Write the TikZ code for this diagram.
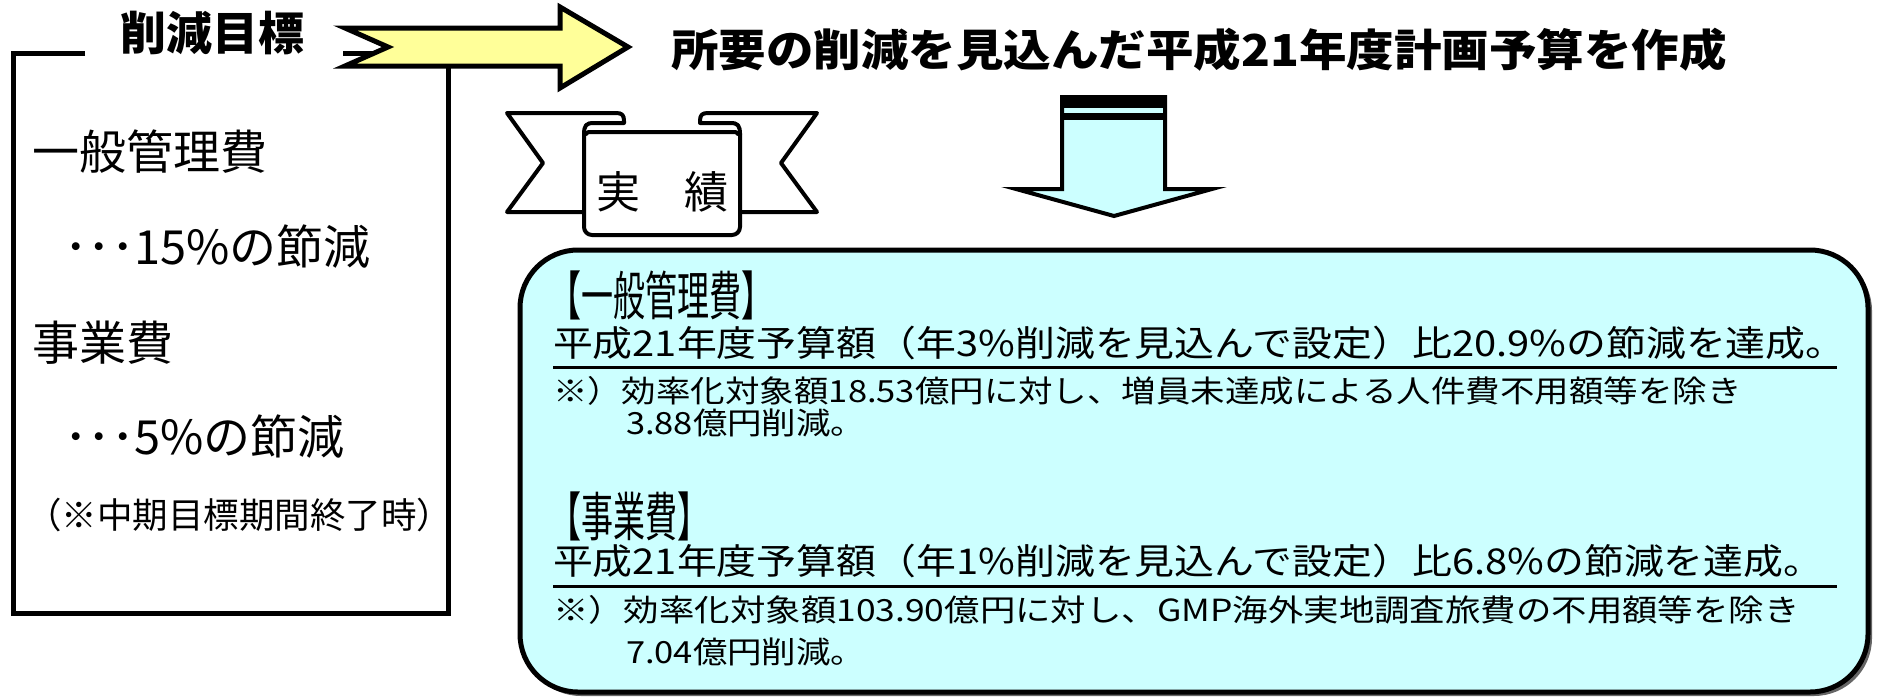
\documentclass[tikz,border=0pt]{standalone}
\usepackage{fontspec}
\usepackage{graphicx}
\setmainfont{Noto Sans CJK JP}
\definecolor{yel}{HTML}{FFFF99}
\definecolor{cyb}{HTML}{CCFFFF}
\newcommand{\fsz}[1]{\fontsize{#1}{#1}\selectfont}
\tikzset{
  frameline/.style={line width=5pt},
  yarrow/.style={line width=5pt, fill=yel, line join=miter},
  darrow/.style={line width=4pt, fill=cyb, line join=miter},
  rib/.style={line width=4pt, line join=round, line cap=round},
  txt/.style={inner sep=0pt, outer sep=0pt},
  ubar/.style={line width=3pt},
}
\begin{document}
\begin{tikzpicture}[x=1pt,y=-1pt]
\useasboundingbox (0,0) rectangle (1879,699);
% frame
\draw[frameline] (85,53) -- (13,53) -- (13,613) -- (448,613) -- (448,60);
\draw[frameline] (343,53) -- (420,53);
\node[txt] (goal) at (212,33) {\bfseries\fsz{46}削減目標};
% yellow arrow
\draw[yarrow] (345,28) -- (560,28) -- (560,7) -- (628,47) -- (560,88) -- (560,66) -- (345,66) -- (388,47) -- cycle;
\node[txt,anchor=west] (plan) at (671,50) {\scalebox{1.08}[1]{\bfseries\fsz{44}所要の削減を見込んだ平成21年度計画予算を作成}};
% frame texts
\node[txt,anchor=west] (a1) at (32,152) {\fsz{47}一般管理費};
\node[txt,anchor=west] (a2) at (64,247) {\fsz{47}･･･15\%の節減};
\node[txt,anchor=west] (a3) at (32,343) {\fsz{47}事業費};
\node[txt,anchor=west] (a4) at (64,437) {\fsz{47}･･･5\%の節減};
\node[txt,anchor=west] (a5) at (26,515) {\fsz{35.5}（※中期目標期間終了時）};
% ribbon
\path[fill=white] (584,212) -- (507,212) -- (543,163) -- (507,113) -- (616,113) .. controls (622,113) and (624,115) .. (624,121) -- (624,212) -- cycle;
\draw[rib] (584,212) -- (507,212) -- (543,163) -- (507,113) -- (616,113) .. controls (622,113) and (624,115) .. (624,121) -- (624,133);
\path[fill=white] (740,212) -- (817,212) -- (781,163) -- (817,113) -- (708,113) .. controls (702,113) and (700,115) .. (700,121) -- (700,212) -- cycle;
\draw[rib] (740,212) -- (817,212) -- (781,163) -- (817,113) -- (708,113) .. controls (702,113) and (700,115) .. (700,121) -- (700,133);
\path[fill=white] (584,135) .. controls (584,125) and (586,123) .. (594,123) -- (730,123) .. controls (738,123) and (740,125) .. (740,135) -- (740,227) -- (584,227) -- cycle;
\draw[rib,fill=white,rounded corners=8] (584,133) -- (584,235) -- (740,235) -- (740,133);
\draw[rib] (584,135) .. controls (584,125) and (586,123) .. (594,123) -- (624,123);
\draw[rib] (740,135) .. controls (740,125) and (738,123) .. (730,123) -- (700,123);
\draw[rib] (586,134) .. controls (587,132) and (588,132) .. (592,132) -- (732,132) .. controls (736,132) and (737,132) .. (738,134);
\node[txt] (jis) at (662,192) {\fsz{44}実　績};
% down arrow
\draw[darrow] (1062,97) -- (1165,97) -- (1165,189) -- (1212,189) -- (1114,216) -- (1016,189) -- (1062,189) -- cycle;
\fill (1060,95) rectangle (1167,108);
\fill (1060,113) rectangle (1167,120);
% result box
\fill[black!60, rounded corners=58] (523,253) rectangle (1872,696);
\draw[line width=5pt, fill=cyb, rounded corners=58] (520,250) rectangle (1868,692);
\node[txt,anchor=west] (g1) at (549,295) {\scalebox{0.8}[1.32]{\fsz{40}【一般管理費】}};
\node[txt,anchor=west] (g2) at (553,343) {\scalebox{1.01}[0.9]{\fsz{39.5}平成21年度予算額（年3\%削減を見込んで設定）比20.9\%の節減を達成。}};
\draw[ubar] (553,367) -- (1837,367);
\node[txt,anchor=west] (g3) at (553,391) {\scalebox{0.95}[0.84]{\fsz{36.3}※）効率化対象額18.53億円に対し、増員未達成による人件費不用額等を除き}};
\node[txt,anchor=west] (g4) at (626,423) {\scalebox{0.95}[0.84]{\fsz{36.3}3.88億円削減。}};
\node[txt,anchor=west] (j1) at (549,516) {\scalebox{0.8}[1.32]{\fsz{40}【事業費】}};
\node[txt,anchor=west] (j2) at (553,561) {\scalebox{1.01}[0.9]{\fsz{39.5}平成21年度予算額（年1\%削減を見込んで設定）比6.8\%の節減を達成。}};
\draw[ubar] (553,586) -- (1837,586);
\node[txt,anchor=west] (j3) at (553,610) {\scalebox{0.976}[0.84]{\fsz{36.3}※）効率化対象額103.90億円に対し、GMP海外実地調査旅費の不用額等を除き}};
\node[txt,anchor=west] (j4) at (626,652) {\scalebox{0.95}[0.84]{\fsz{36.3}7.04億円削減。}};
\end{tikzpicture}
\end{document}
